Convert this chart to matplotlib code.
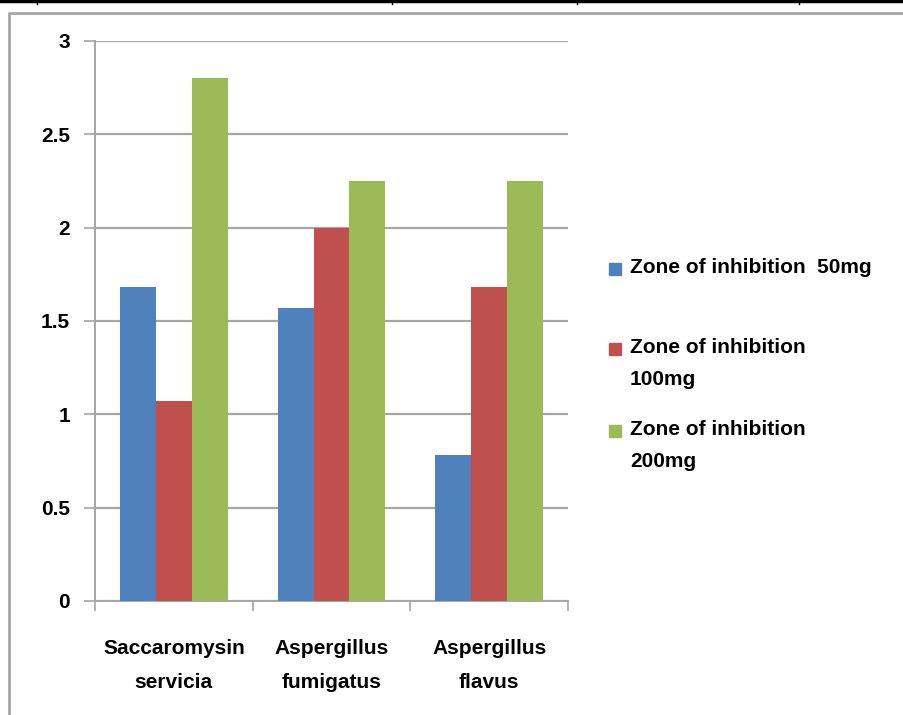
import numpy as np
import matplotlib.pyplot as plt
from matplotlib.patches import Rectangle
from matplotlib.lines import Line2D

# --- Dane ---
categories = ["Saccaromysin\nservicia", "Aspergillus\nfumigatus", "Aspergillus\nflavus"]
series_names = ["Zone of inhibition  50mg", "Zone of inhibition\n100mg", "Zone of inhibition\n200mg"]
zone_50mg = [1.68, 1.57, 0.78]
zone_100mg = [1.07, 2.0, 1.68]
zone_200mg = [2.8, 2.25, 2.25]
colors = ["#4F81BD", "#C0504D", "#9BBB59"]
y_ticks = [0, 0.5, 1, 1.5, 2, 2.5, 3]
y_tick_labels = ["0", "0.5", "1", "1.5", "2", "2.5", "3"]

font = "Liberation Sans"
fsize = 15
grid_col = "#A6A6A6"

fig = plt.figure(figsize=(9.04, 7.15), dpi=100)
ax = fig.add_axes([95 / 904, 1 - 601 / 715, (568 - 95) / 904, (601 - 41) / 715])

x = np.arange(len(categories))
width = 0.228
for i, vals in enumerate([zone_50mg, zone_100mg, zone_200mg]):
    ax.bar(x + (i - 1) * width, vals, width, color=colors[i], zorder=3)

ax.set_xlim(-0.5, len(categories) - 0.5)
ax.set_ylim(0, 3)
ax.set_yticks(y_ticks)
ax.set_yticklabels(y_tick_labels, fontfamily=font, fontweight="bold", fontsize=fsize)
ax.yaxis.grid(True, color=grid_col, linewidth=1.6, zorder=0)
ax.tick_params(axis="y", length=8, color=grid_col, width=1.2, pad=10)

# etykiety kategorii
ax.set_xticks(x)
ax.set_xticklabels(categories, fontfamily=font, fontweight="bold", fontsize=fsize, linespacing=2.0)
ax.tick_params(axis="x", length=0, pad=27)
ax.set_xticks(np.arange(len(categories) + 1) - 0.5, minor=True)
ax.tick_params(axis="x", which="minor", length=7, color=grid_col, width=1.2)

for side in ["top", "right"]:
    ax.spines[side].set_visible(False)
ax.spines["left"].set_color(grid_col)
ax.spines["bottom"].set_color(grid_col)
ax.spines["left"].set_linewidth(1.4)
ax.spines["bottom"].set_linewidth(1.4)

# Legenda
legend_y = [269, 349, 431]
for i, name in enumerate(series_names):
    yy = 1 - legend_y[i] / 715
    fig.add_artist(Rectangle((609 / 904, yy - 6 / 715), 12 / 904, 12 / 715,
                             transform=fig.transFigure, color=colors[i]))
    fig.text(630 / 904, yy + 11 / 715, name, fontfamily=font, fontweight="bold",
             fontsize=fsize, va="top", ha="left", linespacing=1.85)

# Ramka wykresu i linia tabeli
fig.add_artist(Line2D([9 / 904, 9 / 904, 1], [0, 1 - 13 / 715, 1 - 13 / 715],
                      transform=fig.transFigure, color="#A6A6A6", linewidth=2))
fig.add_artist(Line2D([0, 1], [1 - 0.5 / 715, 1 - 0.5 / 715],
                      transform=fig.transFigure, color="black", linewidth=2.5))
for tx in [37, 392, 577, 799]:
    fig.add_artist(Line2D([tx / 904, tx / 904], [1, 1 - 4 / 715],
                          transform=fig.transFigure, color="black", linewidth=1))

fig.savefig("out.png", dpi=100)
